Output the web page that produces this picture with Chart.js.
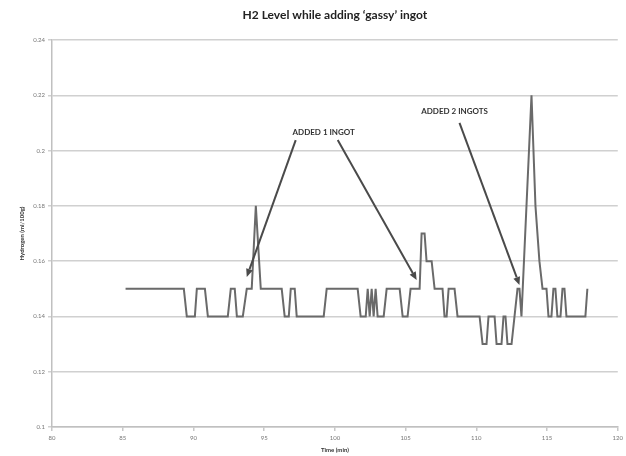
<!DOCTYPE html>
<html>
<head>
<meta charset="utf-8">
<script src="https://cdn.jsdelivr.net/npm/chart.js@4.4.1/dist/chart.umd.min.js"></script>
<style>
  html, body { margin: 0; padding: 0; background: #ffffff; }
  #wrap { width: 626px; height: 456px; }
</style>
</head>
<body>
<div id="wrap"><canvas id="c" width="626" height="456"></canvas></div>
<script>
// ---- data ----
const timeMin = [
  85.2, 89.32, 89.53, 90.10, 90.24, 90.81, 91.02, 92.43, 92.64, 92.92,
  93.07, 93.49, 93.77, 94.12, 94.41, 94.76, 96.24, 96.45, 96.74, 96.88,
  97.16, 97.30, 99.21, 99.42, 101.61, 101.82, 102.18, 102.32, 102.46, 102.60,
  102.74, 102.88, 103.02, 103.45, 103.66, 104.58, 104.79, 105.14, 105.35, 105.99,
  106.13, 106.34, 106.48, 106.84, 107.05, 107.61, 107.75, 107.90, 108.04, 108.46,
  108.67, 110.23, 110.44, 110.72, 110.86, 111.29, 111.43, 111.78, 111.92, 112.06,
  112.20, 112.49, 112.70, 112.91, 113.05, 113.19, 113.90, 114.18, 114.46, 114.68,
  114.96, 115.10, 115.31, 115.45, 115.59, 115.73, 115.95, 116.09, 116.23, 116.37,
  117.71, 117.85
];
const hydrogen = [
  0.15, 0.15, 0.14, 0.14, 0.15, 0.15, 0.14, 0.14, 0.15, 0.15,
  0.14, 0.14, 0.15, 0.15, 0.18, 0.15, 0.15, 0.14, 0.14, 0.15,
  0.15, 0.14, 0.14, 0.15, 0.15, 0.14, 0.14, 0.15, 0.14, 0.15,
  0.14, 0.15, 0.14, 0.14, 0.15, 0.15, 0.14, 0.14, 0.15, 0.15,
  0.17, 0.17, 0.16, 0.16, 0.15, 0.15, 0.14, 0.14, 0.15, 0.15,
  0.14, 0.14, 0.13, 0.13, 0.14, 0.14, 0.13, 0.13, 0.14, 0.14,
  0.13, 0.13, 0.14, 0.15, 0.15, 0.14, 0.22, 0.18, 0.16, 0.15,
  0.15, 0.14, 0.14, 0.15, 0.15, 0.14, 0.14, 0.15, 0.15, 0.14,
  0.14, 0.15
];
const xTickLabels = ['80', '85', '90', '95', '100', '105', '110', '115', '120'];
const yTickLabels = ['0.1', '0.12', '0.14', '0.16', '0.18', '0.2', '0.22', '0.24'];
const titleText = 'H2 Level while adding \u2018gassy\u2019 ingot';
const xTitle = 'Time (min)';
const yTitle = 'Hydrogen (ml/100g)';
// annotation labels and arrows (in data units: time, hydrogen)
const noteLabels = [
  { text: 'ADDED 1 INGOT', t: 99.21, v: 0.2064 },
  { text: 'ADDED 2 INGOTS', t: 108.46, v: 0.2140 }
];
const noteArrows = [
  { t0: 97.23, v0: 0.2038, t1: 93.77, v1: 0.1543 },
  { t0: 100.20, v0: 0.2038, t1: 105.78, v1: 0.1532 },
  { t0: 108.81, v0: 0.2100, t1: 113.05, v1: 0.1514 }
];

const points = timeMin.map((t, i) => ({ x: t, y: hydrogen[i] }));
const FONT = 'Lato, "Open Sans", "Liberation Sans", sans-serif';

const annotationPlugin = {
  id: 'notes',
  afterDatasetsDraw(chart) {
    const ctx = chart.ctx;
    const xs = chart.scales.x, ys = chart.scales.y;
    ctx.save();
    ctx.fillStyle = '#333';
    ctx.font = 'bold 8px ' + FONT;
    ctx.textAlign = 'center';
    ctx.textBaseline = 'middle';
    noteLabels.forEach(n => {
      ctx.fillText(n.text, xs.getPixelForValue(n.t), ys.getPixelForValue(n.v));
    });
    ctx.strokeStyle = '#4a4a4a';
    ctx.fillStyle = '#4a4a4a';
    ctx.lineWidth = 2;
    noteArrows.forEach(a => {
      const x0 = xs.getPixelForValue(a.t0), y0 = ys.getPixelForValue(a.v0);
      const x1 = xs.getPixelForValue(a.t1), y1 = ys.getPixelForValue(a.v1);
      const ang = Math.atan2(y1 - y0, x1 - x0);
      const head = 8, hw = 3.5;
      const bx = x1 - head * Math.cos(ang), by = y1 - head * Math.sin(ang);
      ctx.beginPath();
      ctx.moveTo(x0, y0);
      ctx.lineTo(bx, by);
      ctx.stroke();
      ctx.beginPath();
      ctx.moveTo(x1, y1);
      ctx.lineTo(bx + hw * Math.sin(ang), by - hw * Math.cos(ang));
      ctx.lineTo(bx - hw * Math.sin(ang), by + hw * Math.cos(ang));
      ctx.closePath();
      ctx.fill();
    });
    ctx.restore();
  }
};

new Chart(document.getElementById('c'), {
  type: 'scatter',
  data: {
    datasets: [{
      data: points,
      showLine: true,
      borderColor: '#6a6a6a',
      borderWidth: 2,
      pointRadius: 0,
      tension: 0,
      fill: false
    }]
  },
  options: {
    responsive: false,
    animation: false,
    devicePixelRatio: 1,
    layout: { padding: { left: 0, right: 8, top: 0, bottom: 0 } },
    plugins: {
      legend: { display: false },
      tooltip: { enabled: false },
      title: {
        display: true,
        fullSize: false,
        text: titleText,
        color: '#222',
        font: { family: FONT, size: 12, weight: 'bold' },
        padding: { top: 8, bottom: 17.6 }
      }
    },
    scales: {
      x: {
        type: 'linear',
        min: 80, max: 120,
        ticks: {
          stepSize: 5,
          color: '#777',
          font: { family: FONT, size: 6 },
          padding: 3,
          maxRotation: 0,
          callback: (v) => xTickLabels[Math.round((v - 80) / 5)]
        },
        grid: { drawOnChartArea: false, drawTicks: true, tickLength: 4, color: '#c8c8c8', lineWidth: 1.5 },
        border: { display: true, color: '#c0c0c0', width: 1.5 },
        title: {
          display: true, text: xTitle, color: '#333',
          font: { family: FONT, size: 6, weight: 'bold' },
          padding: { top: 0, bottom: 2.4 }
        },
        afterFit: (s) => { s.height = 29; }
      },
      y: {
        type: 'linear',
        min: 0.1, max: 0.24,
        ticks: {
          stepSize: 0.02,
          color: '#777',
          font: { family: FONT, size: 6 },
          padding: 3,
          callback: (v) => yTickLabels[Math.round((v - 0.1) / 0.02)]
        },
        grid: { drawTicks: true, tickLength: 4, color: '#d0d0d0', lineWidth: 1.5 },
        border: { display: true, color: '#c0c0c0', width: 1.5 },
        title: {
          display: true, text: yTitle, color: '#333',
          font: { family: FONT, size: 6, weight: 'bold' },
          padding: { top: 18, bottom: 0 }
        },
        afterFit: (s) => { s.width = 52; }
      }
    }
  },
  plugins: [annotationPlugin]
});
</script>
</body>
</html>
